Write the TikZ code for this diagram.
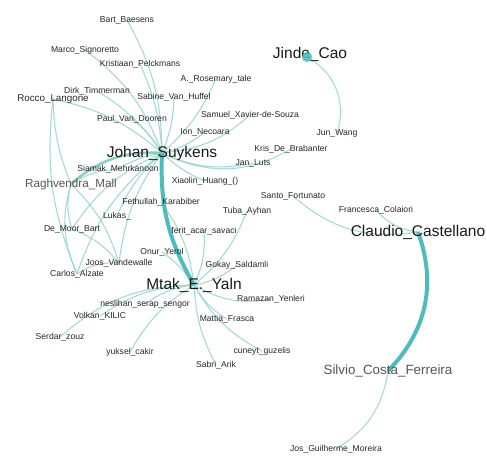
\documentclass[tikz,border=0pt]{standalone}
\usepackage{fontspec}
\setmainfont{Liberation Sans}
\pgfdeclarelayer{bg}
\pgfsetlayers{bg,main}
\definecolor{edgec}{RGB}{150,214,200}
\definecolor{thickc}{RGB}{78,188,190}
\definecolor{txt}{RGB}{40,40,40}
\definecolor{midtxt}{RGB}{85,85,85}
\begin{document}
\begin{tikzpicture}[x=1pt,y=-1pt,
  sm/.style={inner sep=0pt,text=txt,font=\fontsize{8.6}{9}\selectfont},
  big/.style={inner sep=0pt,text=black!90,font=\fontsize{15.5}{16}\selectfont},
  mid/.style={inner sep=0pt,text=midtxt,font=\fontsize{11.7}{12}\selectfont},
  midb/.style={inner sep=0pt,text=midtxt,font=\fontsize{13.4}{14}\selectfont},
  e/.style={draw=edgec,line width=1.1pt,opacity=0.85},
  em/.style={draw=edgec!60!thickc,line width=2.6pt,opacity=0.9},
  et/.style={draw=thickc,line width=4pt},
  dot/.style={circle,fill=thickc,inner sep=0pt,minimum size=#1}]
\useasboundingbox (0,0) rectangle (487,455);
% nodes
\node[sm] (bart) at (127,20) {Bart\_Baesens};
\node[sm] (marco) at (85,50) {Marco\_Signoretto};
\node[sm] (krist) at (140,64) {Kristiaan\_Pelckmans};
\node[sm] (rose) at (216,79) {A.\_Rosemary\_tale};
\node[sm] (dirk) at (97,91) {Dirk\_Timmerman};
\node[sm,font=\fontsize{9.8}{10}\selectfont] (rocco) at (53,99) {Rocco\_Langone};
\node[sm] (sabine) at (174,97) {Sabine\_Van\_Huffel};
\node[sm] (samuel) at (250,115) {Samuel\_Xavier-de-Souza};
\node[sm] (paul) at (132,119) {Paul\_Van\_Dooren};
\node[sm] (ion) at (205,132) {Ion\_Necoara};
\node[big] (johan) at (162,153) {Johan\_Suykens};
\node[big] (jinde) at (310,54) {Jinde\_Cao};
\node[dot=10pt,fill opacity=0.9] (jdot) at (307,57) {};
\node[sm] (jun) at (337,133) {Jun\_Wang};
\node[sm] (kris) at (291,149) {Kris\_De\_Brabanter};
\node[sm] (jan) at (253,163) {Jan\_Luts};
\node[sm] (xiao) at (205,181) {Xiaolin\_Huang\_()};
\node[sm] (siamak) at (118,169) {Siamak\_Mehrkanoon};
\node[mid] (ragh) at (71,184) {Raghvendra\_Mall};
\node[sm] (santo) at (293,196) {Santo\_Fortunato};
\node[sm] (fran) at (376,210) {Francesca\_Colaiori};
\node[big] (claudio) at (418,232) {Claudio\_Castellano};
\node[sm] (feth) at (161,202) {Fethullah\_Karabiber};
\node[sm] (tuba) at (247,211) {Tuba\_Ayhan};
\node[sm] (lukas) at (117,216) {Lukas\_};
\node[sm] (demoor) at (72,229) {De\_Moor\_Bart};
\node[sm] (ferit) at (204,231) {ferit\_acar\_savaci};
\node[sm] (onur) at (162,252) {Onur\_Yerol};
\node[sm] (joos) at (119,263) {Joos\_Vandewalle};
\node[sm] (gokay) at (237,265) {Gokay\_Saldamli};
\node[sm] (carlos) at (77,274) {Carlos\_Alzate};
\node[big] (mtak) at (194,285) {Mtak\_E.\_Yaln};
\node[sm] (ramazan) at (271,299) {Ramazan\_Yenleri};
\node[sm] (nesl) at (145,304) {neslihan\_serap\_sengor};
\node[sm] (volkan) at (100,316) {Volkan\_KILIC};
\node[sm] (mattia) at (227,319) {Mattia\_Frasca};
\node[sm] (serdar) at (60,337) {Serdar\_zouz};
\node[sm] (yuksel) at (130,352) {yuksel\_cakir};
\node[sm] (cuneyt) at (262,351) {cuneyt\_guzelis};
\node[sm] (sabri) at (216,365) {Sabri\_Arik};
\node[midb] (silvio) at (388,371) {Silvio\_Costa\_Ferreira};
\node[sm] (jos) at (336,449) {Jos\_Guilherme\_Moreira};
% edges
\begin{pgfonlayer}{bg}
\fill[white] (0,0) rectangle (487,455);
\foreach \t/\b in {bart/14,marco/16,krist/10,rose/12,dirk/12,rocco/14,sabine/10,samuel/18,paul/10,ion/12,kris/28,jan/18,xiao/10,siamak/10,lukas/12,demoor/16,joos/14,carlos/16}
  \draw[e] (johan.center) to[bend right=\b] (\t.center);
\draw[em] (johan.center) to[bend right=22] (ragh.center);
\foreach \t/\b in {feth/14,ferit/14,tuba/14,onur/10,gokay/14,ramazan/20,nesl/14,volkan/16,serdar/20,yuksel/14,mattia/14,cuneyt/16,sabri/12}
  \draw[e] (mtak.center) to[bend right=\b] (\t.center);
\draw[e] (rocco.center) to[bend right=10] (ragh.center);
\draw[e] (rocco.center) to[bend right=14] (carlos.center);
\draw[e] (ragh.center) to[bend right=20] (carlos.center);
\draw[e] (ragh.center) to[bend right=16] (demoor.center);
\draw[e] (ragh.center) to[bend left=14] (joos.center);
\draw[e] (demoor.center) to[bend left=14] (joos.center);
\draw[e] (carlos.center) to[bend left=18] (joos.center);
\draw[e] (siamak.center) to[bend right=14] (ragh.center);
\draw[e] (jdot.center) to[bend left=40] (jun.center);
\draw[e] (santo.center) to[bend right=25] (claudio.center);
\draw[e] (fran.center) to[bend right=20] (claudio.center);
\draw[et] (johan.center) to[bend right=16] (mtak.center);
\draw[et] (claudio.center) to[bend left=32] (silvio.center);
\draw[e] (silvio.center) to[bend left=25] (jos.center);
\end{pgfonlayer}
\end{tikzpicture}
\end{document}
